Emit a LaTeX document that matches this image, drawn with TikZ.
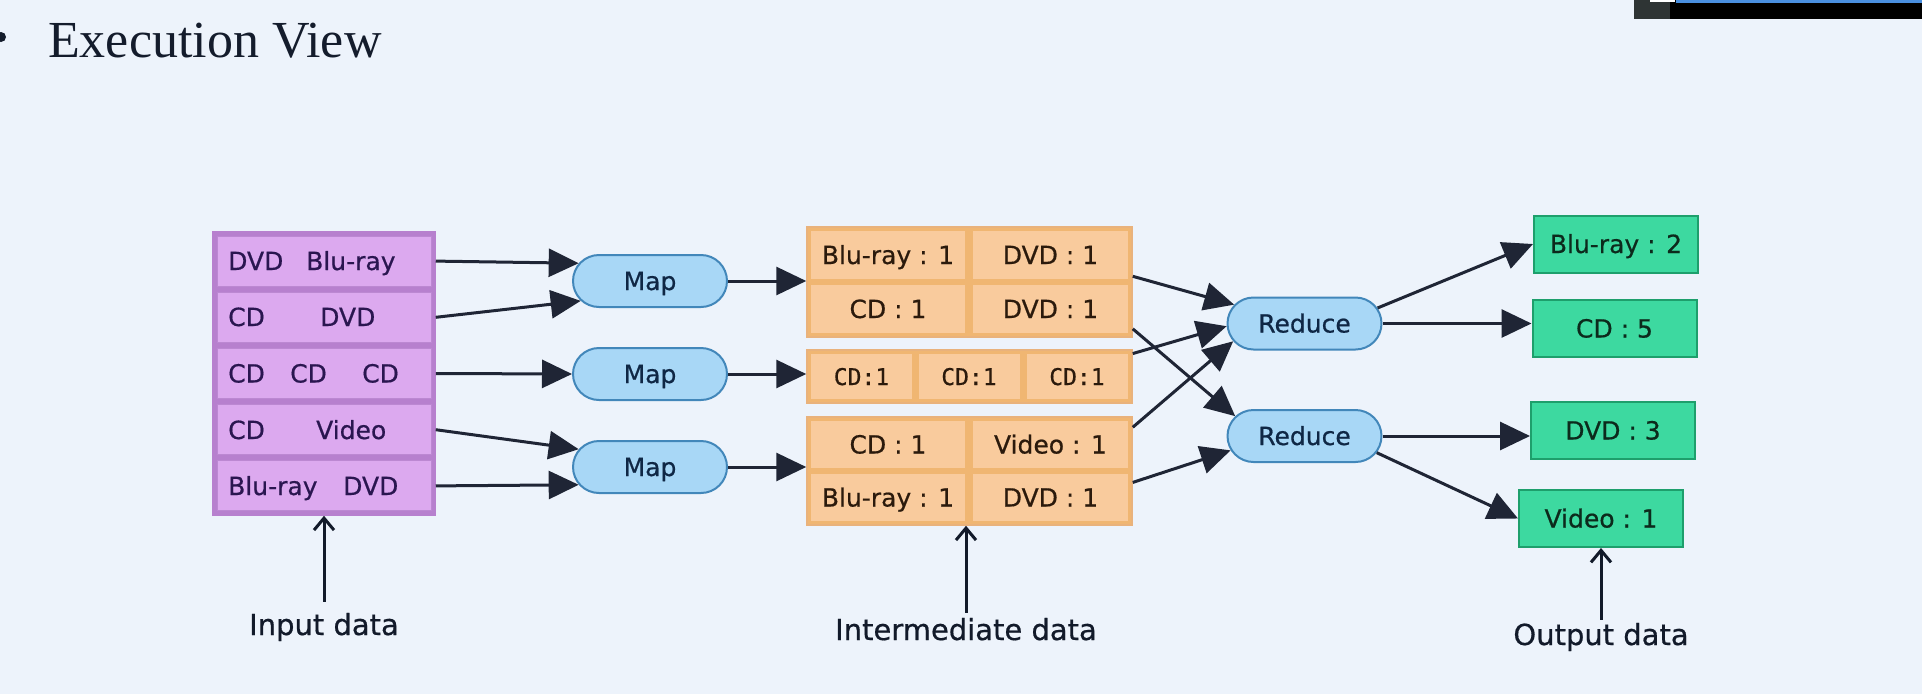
\documentclass[tikz,border=0pt]{standalone}
\usepackage{fontspec}
\setmainfont[FakeBold=0.6]{DejaVu Sans}
\newfontfamily\titlefont{Liberation Serif}
\newfontfamily\cellmono[FakeBold=0.6]{DejaVu Sans Mono}
\usetikzlibrary{arrows.meta,shapes.misc}
\definecolor{bg}{HTML}{EDF3FB}
\definecolor{inframe}{HTML}{B780CE}
\definecolor{incell}{HTML}{DCA9EF}
\definecolor{inborder}{HTML}{BC88D2}
\definecolor{intext}{HTML}{2A1650}
\definecolor{procfill}{HTML}{A8D7F6}
\definecolor{procborder}{HTML}{4287BA}
\definecolor{proctext}{HTML}{0F2745}
\definecolor{framefill}{HTML}{F0B672}
\definecolor{frameborder}{HTML}{E9B27C}
\definecolor{cellfill}{HTML}{F9CB9D}
\definecolor{celltext}{HTML}{2B1A0C}
\definecolor{outfill}{HTML}{3DD9A0}
\definecolor{outborder}{HTML}{1E9F6C}
\definecolor{outtext}{HTML}{0C2A1C}
\definecolor{arrowc}{HTML}{1F2535}
\definecolor{labtext}{HTML}{121A2A}
\definecolor{titlec}{HTML}{141C2C}
\definecolor{bargray}{HTML}{2E3434}
\definecolor{barblue}{HTML}{4A90E0}
\begin{document}
\begin{tikzpicture}[x=1pt,y=-1pt,
  fnt/.style={font=\fontsize{25}{30}\selectfont},
  inframebox/.style={draw=inframe, fill=inframe, line width=1.5pt, inner sep=0pt},
  inrow/.style={draw=inborder, line width=1pt, fill=incell, minimum width=214pt, minimum height=50pt, inner sep=0pt},
  intxt/.style={fnt, text=intext, anchor=base west, inner sep=0pt},
  proc/.style={rounded rectangle, draw=procborder, fill=procfill, line width=2pt, minimum width=154pt, minimum height=52pt, inner sep=0pt, text=proctext, fnt, text height=18pt, text depth=0pt},
  frame/.style={draw=frameborder, fill=framefill, line width=1.5pt, inner sep=0pt, minimum width=325pt},
  cell/.style={fill=cellfill, inner sep=0pt, text height=18pt, text depth=0pt, fnt, text=celltext},
  monocell/.style={cell, font=\cellmono\fontsize{23}{28}\selectfont, text height=17pt, minimum width=101pt, minimum height=45pt},
  outbox/.style={draw=outborder, fill=outfill, line width=2pt, minimum width=164pt, minimum height=57pt, inner sep=0pt, fnt, text=outtext, text height=18pt, text depth=0pt},
  flow/.style={draw=arrowc, line width=3pt, -{Triangle[length=30pt,width=28pt]}},
  lab/.style={font=\fontsize{29}{34}\selectfont, text=labtext, inner sep=0pt, text height=22pt, text depth=6pt},
  labarrow/.style={draw=labtext, line width=3pt, -{Straight Barb[length=12pt,width=20pt]}}
]
\useasboundingbox (0,0) rectangle (1922,694);
\fill[bg] (0,0) rectangle (1922,694);
% screen artefact top right
\fill[bargray] (1634,0) rectangle (1670,19);
\fill[black] (1670,0) rectangle (1922,19);
\fill[barblue] (1676,0) rectangle (1922,3);
\fill[white] (1650,0) rectangle (1675,2);

% title
\node[circle, fill=titlec, minimum size=10pt, inner sep=0pt] (bullet) at (1,37) {};
\node[anchor=base west, inner sep=0pt, font=\titlefont\fontsize{52}{60}\selectfont, text=titlec] (title) at (48,57) {Execution View};

% input data
\node[inframebox, minimum width=222pt, minimum height=283pt] (inp) at (324,373.5) {};
\node[inrow] (r1) at (324,261.1) {};
\node[inrow] (r2) at (324,317.3) {};
\node[inrow] (r3) at (324,373.5) {};
\node[inrow] (r4) at (324,429.7) {};
\node[inrow] (r5) at (324,485.9) {};
\node[intxt] (t11) at (228,270) {DVD};
\node[intxt] (t12) at (306,270) {Blu-ray};
\node[intxt] (t21) at (228,326) {CD};
\node[intxt] (t22) at (320,326) {DVD};
\node[intxt] (t31) at (228,382.5) {CD};
\node[intxt] (t32) at (290,382.5) {CD};
\node[intxt] (t33) at (362,382.5) {CD};
\node[intxt] (t41) at (228,439) {CD};
\node[intxt] (t42) at (316,439) {Video};
\node[intxt] (t51) at (228,495) {Blu-ray};
\node[intxt] (t52) at (343,495) {DVD};

% map
\node[proc] (m1) at (650,281) {Map};
\node[proc] (m2) at (650,374) {Map};
\node[proc] (m3) at (650,467) {Map};

% intermediate
\node[frame, minimum height=110pt] (b1) at (969.5,282) {};
\node[frame, minimum height=53pt] (b2) at (969.5,376.5) {};
\node[frame, minimum height=108pt] (b3) at (969.5,471) {};
\node[cell, minimum width=154pt, minimum height=48pt] (c11) at (888,255) {Blu-ray : 1};
\node[cell, minimum width=155pt, minimum height=48pt] (c12) at (1050.5,255) {DVD : 1};
\node[cell, minimum width=154pt, minimum height=48pt] (c13) at (888,309) {CD : 1};
\node[cell, minimum width=155pt, minimum height=48pt] (c14) at (1050.5,309) {DVD : 1};
\node[monocell] (c21) at (861.5,376.5) {CD:1};
\node[monocell] (c22) at (969,376.5) {CD:1};
\node[monocell] (c23) at (1077,376.5) {CD:1};
\node[cell, minimum width=154pt, minimum height=47pt] (c31) at (888,444.5) {CD : 1};
\node[cell, minimum width=155pt, minimum height=47pt] (c32) at (1050.5,444.5) {Video : 1};
\node[cell, minimum width=154pt, minimum height=47pt] (c33) at (888,497.5) {Blu-ray : 1};
\node[cell, minimum width=155pt, minimum height=47pt] (c34) at (1050.5,497.5) {DVD : 1};

% reduce
\node[proc] (rd1) at (1304.5,323.5) {Reduce};
\node[proc] (rd2) at (1304.5,436) {Reduce};

% output
\node[outbox] (o1) at (1616,244) {Blu-ray : 2};
\node[outbox] (o2) at (1614.5,328.5) {CD : 5};
\node[outbox] (o3) at (1613,430.5) {DVD : 3};
\node[outbox] (o4) at (1601,518.5) {Video : 1};

% flows
\draw[flow] (inp.east |- r1.east) -- (m1.166);
\draw[flow] (inp.east |- r2.east) -- (m1.196);
\draw[flow] (inp.east |- r3.east) -- (m2.west);
\draw[flow] (inp.east |- r4.east) -- (m3.166);
\draw[flow] (inp.east |- r5.east) -- (m3.194);
\draw[flow] (m1.east) -- (m1.east -| b1.west);
\draw[flow] (m2.east) -- (m2.east -| b2.west);
\draw[flow] (m3.east) -- (m3.east -| b3.west);
\draw[flow] (b1.2) -- (rd1.165);
\draw[flow] (b1.-16) -- (rd2.164);
\draw[flow] (b2.8) -- (rd1.182);
\draw[flow] (b3.15) -- (rd1.194);
\draw[flow] (b3.-4) -- (rd2.191);
\draw[flow] (rd1.12) -- (o1.west);
\draw[flow] (rd1.east) -- (o2.west |- rd1.east);
\draw[flow] (rd2.east) -- (o3.west |- rd2.east);
\draw[flow] (rd2.-13) -- (o4.west);

% labels
\node[lab, anchor=base] (linp) at (324,635) {Input data};
\draw[labarrow, shorten <=11pt] (linp.north) -- (inp.south);
\node[lab, anchor=base] (lint) at (966,640) {Intermediate data};
\draw[labarrow, shorten <=5pt] (lint.north) -- (lint.north |- b3.south);
\node[lab, anchor=base] (lout) at (1601,645) {Output data};
\draw[labarrow, shorten <=3pt] (lout.north) -- (o4.south);
\end{tikzpicture}
\end{document}
